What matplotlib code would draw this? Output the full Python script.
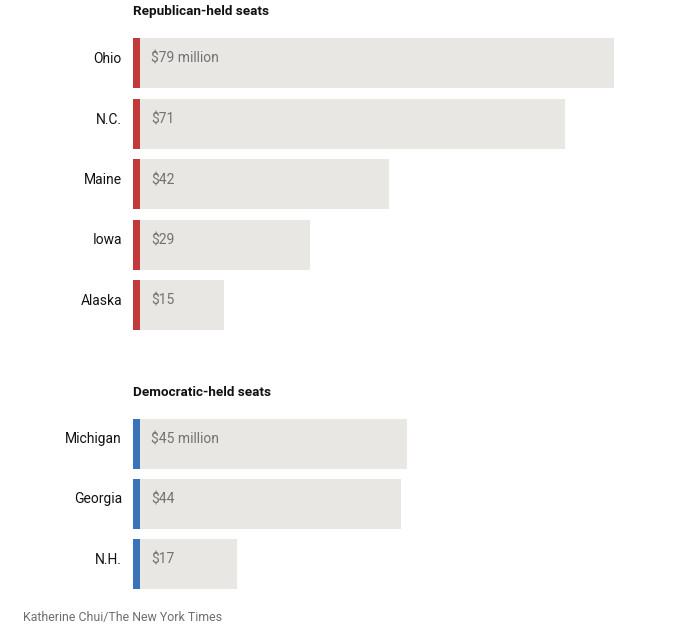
import matplotlib.pyplot as plt

# Dados (milhões de dólares)
rep_states = ["Ohio", "N.C.", "Maine", "Iowa", "Alaska"]
rep_values = [79, 71, 42, 29, 15]
rep_labels = ["$79 million", "$71", "$42", "$29", "$15"]

dem_states = ["Michigan", "Georgia", "N.H."]
dem_values = [45, 44, 17]
dem_labels = ["$45 million", "$44", "$17"]

plt.rcParams["font.family"] = ["Roboto", "DejaVu Sans"]

W, H = 680, 634
fig = plt.figure(figsize=(W / 100, H / 100), dpi=100)

px_per_unit = 6.09
x0 = 133
xmax = (W - x0) / px_per_unit


def painel(top, bottom, states, values, labels, color, title):
    ax = fig.add_axes([x0 / W, (H - bottom) / H, (W - x0) / W, (bottom - top) / H])
    n = len(states)
    pos = list(range(n))
    pitch = (bottom - top) / n
    h = 50 / pitch
    dy = -4 / pitch  # texto um pouco acima do centro da barra
    ax.barh(pos, values, height=h, color="#e9e7e4", left=0)
    ax.barh(pos, [7 / px_per_unit] * n, height=h, color=color)
    for i, (s, lab) in enumerate(zip(states, labels)):
        ax.text(-11 / px_per_unit, i + dy, s, ha="right", va="center", fontsize=10, color="#121212")
        ax.text(18 / px_per_unit, i + dy, lab, ha="left", va="center", fontsize=10, color="#727272")
    ax.set_xlim(0, xmax)
    ax.set_ylim(n - 0.5, -0.5)
    ax.axis("off")
    fig.text(x0 / W, 1 - (top - 21) / H, title, ha="left", va="center",
             fontsize=9.7, fontweight="bold", color="#121212")
    return ax


painel(32.75, 335.25, rep_states, rep_values, rep_labels, "#c3393a", "Republican-held seats")
painel(413.5, 593.5, dem_states, dem_values, dem_labels, "#3b73b9", "Democratic-held seats")

fig.text(23 / W, 1 - 618 / H, "Katherine Chui/The New York Times", ha="left", va="center",
         fontsize=8.9, color="#6e6e6e")

plt.savefig("out.png", dpi=100)
plt.close()
